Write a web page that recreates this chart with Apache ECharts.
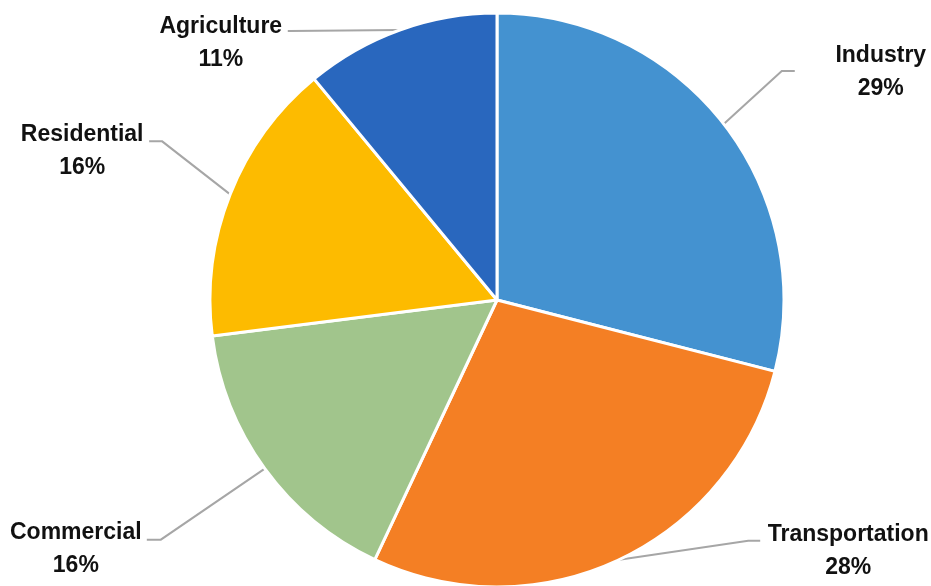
<!DOCTYPE html>
<html>
<head>
<meta charset="utf-8">
<script src="https://cdn.jsdelivr.net/npm/echarts@6/dist/echarts.min.js"></script>
<style>
  html, body { margin: 0; padding: 0; background: #ffffff; }
  #chart { width: 931px; height: 586px; }
</style>
</head>
<body>
<div id="chart"></div>
<script>
// Share of the total by sector, clockwise from 12 o'clock
const sectors = ['Industry', 'Transportation', 'Commercial', 'Residential', 'Agriculture'];
const shares = [29, 28, 16, 16, 11];
const sectorColors = ['#4492D0', '#F47F24', '#A1C58C', '#FDBB00', '#2967BE'];

// Pie geometry
const CX = 497, CY = 300, R = 287;

// Leader-line routing per label, measured from the point where the line leaves the slice:
// bend = offset of the elbow, run = horizontal run after the elbow,
// textX / textY = offset of the centre of the text block from the end of the run.
const leaderRoutes = [
  { bend: [58, -53],  run: 13,  textX: 86,  textY: 1 },
  { bend: [129, -19], run: 12,  textX: 88,  textY: 10 },
  { bend: [-104, 71], run: -14, textX: -71, textY: 9 },
  { bend: [-68, -53], run: -13, textX: -67, textY: 10 },
  { bend: [-110, 1],  run: -2,  textX: -67, textY: 12 }
];

// Outer-edge point at the middle of a slice (used if the library gives no line points)
function sliceEdgePoint(i) {
  const total = shares.reduce((a, b) => a + b, 0);
  let before = 0;
  for (let k = 0; k < i; k++) before += shares[k];
  const mid = (before + shares[i] / 2) / total * 2 * Math.PI;
  return [CX + R * Math.sin(mid), CY - R * Math.cos(mid)];
}

const chart = echarts.init(document.getElementById('chart'), null, { renderer: 'canvas' });

chart.setOption({
  backgroundColor: '#ffffff',
  animation: false,
  series: [{
    type: 'pie',
    center: [CX, CY],
    radius: R,
    startAngle: 90,
    clockwise: true,
    avoidLabelOverlap: false,
    percentPrecision: 0,
    data: sectors.map((name, i) => ({
      name: name,
      value: shares[i],
      itemStyle: { color: sectorColors[i] }
    })),
    itemStyle: { borderColor: '#ffffff', borderWidth: 3 },
    label: {
      show: true,
      position: 'outside',
      formatter: '{b}\n{d}%',
      fontFamily: 'Liberation Sans',
      fontWeight: 'bold',
      fontSize: 23,
      lineHeight: 33,
      color: '#111111'
    },
    labelLine: {
      show: true,
      length: 20,
      length2: 10,
      lineStyle: { color: '#A6A6A6', width: 2 }
    },
    labelLayout: function (params) {
      const i = params.dataIndex;
      const pts = params.labelLinePoints;
      const a = (pts && pts.length) ? pts[0] : sliceEdgePoint(i);
      const route = leaderRoutes[i];
      const elbow = [a[0] + route.bend[0], a[1] + route.bend[1]];
      const end = [elbow[0] + route.run, elbow[1]];
      return {
        x: end[0] + route.textX,
        y: end[1] + route.textY,
        align: 'center',
        verticalAlign: 'middle',
        labelLinePoints: [a, elbow, end]
      };
    },
    emphasis: { disabled: true }
  }]
});
</script>
</body>
</html>
